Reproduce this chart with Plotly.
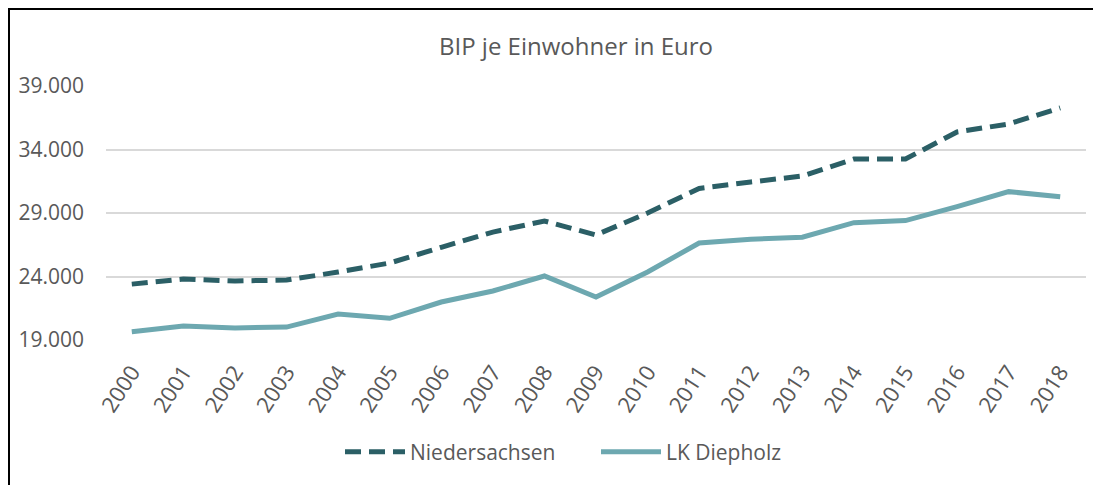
import plotly.graph_objects as go

years = [str(y) for y in range(2000, 2019)]
niedersachsen = [23400, 23800, 23650, 23720, 24350, 25060, 26300, 27500, 28370, 27270,
                 29000, 30930, 31440, 31910, 33250, 33250, 35380, 36010, 37270]
diepholz = [19650, 20100, 19950, 20020, 21050, 20710, 21990, 22860, 24040, 22390,
            24350, 26640, 26930, 27090, 28240, 28400, 29500, 30680, 30280]
y_ticks = [19000, 24000, 29000, 34000, 39000]

FONT = "Open Sans"
GREY = "#595959"

# page offset (browser body margin)
OFF = 8
W, H = 1101 - OFF, 485 - OFF
# plot area in page pixels
PL, PR, PT, PB = 106, 1086, 86, 340
L, T = PL - OFF, PT - OFF
R, B = W - (PR - OFF), H - (PB - OFF)
pw, ph = PR - PL, PB - PT

def px_x(p):  # page px -> paper
    return (p - PL) / pw

def px_y(p):
    return (PB - p) / ph

fig = go.Figure()
fig.add_trace(go.Scatter(x=years, y=niedersachsen, name="Niedersachsen", mode="lines",
                         line=dict(color="#2B5F66", width=5, dash="16px,8px")))
fig.add_trace(go.Scatter(x=years, y=diepholz, name="LK Diepholz", mode="lines",
                         line=dict(color="#6DA8B0", width=5)))

fig.add_shape(type="rect", xref="paper", yref="paper",
              x0=px_x(9), x1=px_x(1130), y0=px_y(520), y1=px_y(OFF + 1),
              line=dict(color="black", width=2), fillcolor="rgba(0,0,0,0)", layer="above")

fig.update_layout(
    width=W, height=H,
    margin=dict(l=L, r=R, t=T, b=B, autoexpand=False),
    paper_bgcolor="white", plot_bgcolor="white",
    separators=",.",
    font=dict(family=FONT, color=GREY),
    title=dict(text="BIP je Einwohner in Euro", x=(576 - OFF) / W, xanchor="center",
               y=1 - (47 - OFF) / H, yanchor="middle", font=dict(size=24, color=GREY, family=FONT)),
    xaxis=dict(type="category", range=[-0.5, 18.5], showgrid=False, showline=False,
               ticks="", tickangle=-57, tickfont=dict(size=22, color=GREY),
               ticklabelstandoff=14),
    yaxis=dict(range=[19000, 39000], tickvals=y_ticks, tickformat=",d",
               showgrid=True, gridcolor="#D9D9D9", gridwidth=1.5, zeroline=False,
               showline=False, ticks="", tickfont=dict(size=21, color=GREY),
               ticklabelstandoff=21),
    legend=dict(orientation="h", x=px_x(340), xanchor="left", y=px_y(452), yanchor="middle",
                font=dict(size=21, color=GREY), itemwidth=60, entrywidth=181,
                bgcolor="rgba(0,0,0,0)"),
    showlegend=True,
)

fig.write_html("out.html")
